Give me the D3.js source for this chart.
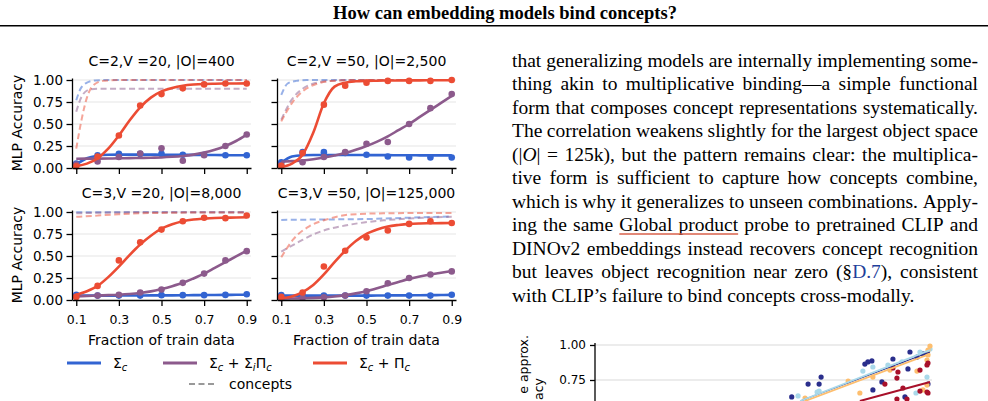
<!DOCTYPE html>
<html>
<head>
<meta charset="utf-8">
<script src="https://cdn.jsdelivr.net/npm/d3@7"></script>
<style>
  body { margin: 0; background: #fff; }
  svg { display: block; }
</style>
</head>
<body>
<script>
// ---- data ----
const fracs = [0.1, 0.2, 0.3, 0.4, 0.5, 0.6, 0.7, 0.8, 0.9];
const fitGrid = [0.1, 0.15, 0.2, 0.25, 0.3, 0.35, 0.4, 0.45, 0.5, 0.55, 0.6, 0.65, 0.7, 0.75, 0.8, 0.85, 0.9];
const panelTitles = ['C=2,V =20, |O|=400', 'C=2,V =50, |O|=2,500', 'C=3,V =20, |O|=8,000', 'C=3,V =50, |O|=125,000'];
const xTicks = [0.1, 0.3, 0.5, 0.7, 0.9];
const yTicks = [0, 0.25, 0.5, 0.75, 1.0];

// Σc
const sumPts = [
  [0.05, 0.145, 0.16, 0.16, 0.16, 0.15, 0.15, 0.145, 0.145],
  [0.065, 0.18, 0.18, 0.17, 0.15, 0.13, 0.12, 0.12, 0.12],
  [0.06, 0.05, 0.05, 0.05, 0.055, 0.055, 0.055, 0.058, 0.065],
  [0.055, 0.05, 0.05, 0.05, 0.05, 0.05, 0.05, 0.05, 0.06]
];
const sumFit = [
  [0.04, 0.11, 0.14, 0.15, 0.152, 0.152, 0.152, 0.152, 0.151, 0.15, 0.15, 0.149, 0.148, 0.147, 0.146, 0.145, 0.145],
  [0.06, 0.13, 0.145, 0.148, 0.148, 0.148, 0.148, 0.147, 0.147, 0.146, 0.146, 0.145, 0.145, 0.144, 0.144, 0.143, 0.143],
  [0.05, 0.05, 0.05, 0.05, 0.05, 0.051, 0.051, 0.052, 0.052, 0.053, 0.054, 0.055, 0.056, 0.057, 0.058, 0.059, 0.06],
  [0.05, 0.05, 0.05, 0.05, 0.05, 0.05, 0.05, 0.05, 0.05, 0.051, 0.052, 0.052, 0.053, 0.054, 0.055, 0.056, 0.058]
];
// Σc + ΣiΠc
const sumIProdPts = [
  [0.04, 0.075, 0.125, 0.165, 0.225, 0.083, 0.145, 0.25, 0.38],
  [0.03, 0.065, 0.125, 0.18, 0.275, 0.295, 0.5, 0.68, 0.84],
  [0.04, 0.05, 0.06, 0.085, 0.12, 0.195, 0.3, 0.45, 0.555],
  [0.02, 0.025, 0.03, 0.05, 0.1, 0.19, 0.25, 0.29, 0.325]
];
const sumIProdFit = [
  [0.105, 0.106, 0.107, 0.108, 0.11, 0.112, 0.114, 0.117, 0.12, 0.127, 0.137, 0.152, 0.175, 0.207, 0.25, 0.307, 0.38],
  [0.07, 0.078, 0.085, 0.1, 0.12, 0.143, 0.17, 0.207, 0.25, 0.3, 0.36, 0.43, 0.5, 0.58, 0.66, 0.74, 0.82],
  [0.04, 0.045, 0.05, 0.055, 0.06, 0.068, 0.08, 0.098, 0.125, 0.157, 0.195, 0.245, 0.3, 0.365, 0.43, 0.495, 0.56],
  [0.015, 0.017, 0.02, 0.024, 0.03, 0.04, 0.055, 0.075, 0.1, 0.133, 0.17, 0.205, 0.24, 0.268, 0.29, 0.31, 0.33]
];
// Σc + Πc
const sumProdPts = [
  [0.02, 0.13, 0.37, 0.71, 0.84, 0.905, 0.95, 0.96, 0.96],
  [0.025, 0.17, 0.72, 0.935, 0.97, 0.99, 0.99, 0.99, 1.0],
  [0.035, 0.16, 0.45, 0.655, 0.8, 0.895, 0.935, 0.93, 0.96],
  [0.035, 0.085, 0.38, 0.56, 0.71, 0.79, 0.865, 0.895, 0.875]
];
const sumProdFit = [
  [0.02, 0.05, 0.11, 0.22, 0.37, 0.54, 0.69, 0.8, 0.87, 0.91, 0.935, 0.948, 0.955, 0.958, 0.96, 0.961, 0.962],
  [0.01, 0.05, 0.15, 0.4, 0.735, 0.925, 0.97, 0.985, 0.99, 0.992, 0.994, 0.995, 0.996, 0.996, 0.997, 0.997, 0.997],
  [0.06, 0.1, 0.16, 0.26, 0.38, 0.51, 0.63, 0.73, 0.81, 0.86, 0.895, 0.915, 0.925, 0.932, 0.935, 0.938, 0.94],
  [0.02, 0.04, 0.09, 0.17, 0.29, 0.43, 0.56, 0.67, 0.75, 0.8, 0.835, 0.853, 0.865, 0.87, 0.872, 0.874, 0.875]
];
// concept accuracy (dashed), [fraction, acc]
const conceptSum = [
  [[0.1, 0.77], [0.12, 0.9], [0.15, 0.97], [0.19, 0.995], [0.25, 1.0], [0.9, 1.0]],
  [[0.1, 0.83], [0.13, 0.96], [0.17, 0.99], [0.22, 1.0], [0.9, 1.0]],
  [[0.1, 0.998], [0.9, 0.998]],
  [[0.1, 0.91], [0.3, 0.915], [0.5, 0.92], [0.7, 0.935], [0.9, 0.95]]
];
const conceptSumIProd = [
  [[0.1, 0.64], [0.125, 0.81], [0.16, 0.89], [0.2, 0.9], [0.9, 0.9]],
  [[0.1, 0.55], [0.15, 0.78], [0.2, 0.9], [0.26, 0.965], [0.33, 0.99], [0.45, 1.0], [0.9, 1.0]],
  [[0.1, 0.985], [0.3, 0.995], [0.5, 0.998], [0.9, 0.998]],
  [[0.1, 0.55], [0.186, 0.665], [0.265, 0.76], [0.42, 0.855], [0.58, 0.905], [0.735, 0.93], [0.9, 0.945]]
];
const conceptSumProd = [
  [[0.1, 0.22], [0.125, 0.55], [0.15, 0.8], [0.18, 0.94], [0.225, 0.99], [0.3, 1.0], [0.9, 1.0]],
  [[0.1, 0.53], [0.155, 0.755], [0.2, 0.87], [0.265, 0.955], [0.34, 0.99], [0.45, 1.0], [0.9, 1.0]],
  [[0.1, 0.945], [0.2, 0.96], [0.3, 0.975], [0.4, 0.985], [0.5, 0.99], [0.7, 0.994], [0.9, 0.995]],
  [[0.1, 0.485], [0.155, 0.685], [0.233, 0.84], [0.312, 0.915], [0.42, 0.97], [0.58, 0.985], [0.9, 0.99]]
];

// partial scatter plot at the bottom right, [x, acc]
const scatterNavy = [[0.58, 0.629], [0.629, 0.721], [0.662, 0.721], [0.668, 0.771], [0.799, 0.864], [0.808, 0.879],
  [0.82, 0.886], [0.823, 0.679], [0.85, 0.736], [0.883, 0.9], [0.934, 0.95], [0.928, 0.829], [0.988, 0.721],
  [0.985, 0.943], [0.973, 0.936], [0.919, 0.629], [0.955, 0.914]];
const scatterSky = [[0.599, 0.636], [0.656, 0.664], [0.662, 0.671], [0.793, 0.814], [0.823, 0.843], [0.868, 0.857],
  [0.91, 0.879], [0.964, 0.95], [0.985, 0.771], [0.994, 0.971], [0.952, 0.657]];
const scatterPeach = [[0.62, 0.621], [0.749, 0.743], [0.784, 0.657], [0.823, 0.771], [0.874, 0.821], [0.955, 0.814],
  [0.985, 0.893], [0.988, 0.964], [0.994, 0.993], [0.988, 0.929], [0.985, 0.714], [0.973, 0.679]];
const scatterCrimson = [[0.883, 0.836], [0.898, 0.807], [0.895, 0.764], [0.859, 0.721], [0.913, 0.693], [0.964, 0.671],
  [0.985, 0.664], [0.988, 0.657], [0.895, 0.614], [0.925, 0.614], [0.964, 0.821], [0.985, 0.857], [0.988, 0.871]];
const trendNavy = [[0.605, 0.6], [0.994, 0.95]];
const trendSky = [[0.605, 0.6], [0.994, 0.964]];
const trendPeach = [[0.62, 0.6], [0.994, 0.936]];
const trendCrimson = [[0.784, 0.6], [0.994, 0.736]];
const scatterYTicks = [0.75, 1.0];

const bodyLines = [
  'that generalizing models are internally implementing some-',
  'thing akin to multiplicative binding\u2014a simple functional',
  'form that composes concept representations systematically.',
  'The correlation weakens slightly for the largest object space',
  '(|*O*| = 125k), but the pattern remains clear: the multiplica-',
  'tive form is sufficient to capture how concepts combine,',
  'which is why it generalizes to unseen combinations. Apply-',
  'ing the same _Global _product probe to pretrained CLIP and',
  'DINOv2 embeddings instead recovers concept recognition',
  'but leaves object recognition near zero (\u00a7~D.7~), consistent',
  'with CLIP\u2019s failure to bind concepts cross-modally.'
];

// ---- drawing ----
const W = 988, H = 401;
const sansFont = '"DejaVu Sans", sans-serif';
const serifFont = '"Liberation Serif", "Times New Roman", serif';
const cBlue = '#3264d2', cPurple = '#8c5a8c', cRed = '#ec4c34';

const svg = d3.select('body').append('svg').attr('width', W).attr('height', H);

// header
svg.append('text')
  .attr('x', 505).attr('y', 18.5)
  .attr('text-anchor', 'middle')
  .attr('font-family', serifFont).attr('font-weight', 'bold').attr('font-size', 18.5)
  .text('How can embedding models bind concepts?');
svg.append('line')
  .attr('x1', 0).attr('x2', W).attr('y1', 25.7).attr('y2', 25.7)
  .attr('stroke', '#000').attr('stroke-width', 1.6);

// ---- 2x2 panels ----
const series = [
  { color: cBlue, pts: sumPts, fit: sumFit, concept: conceptSum },
  { color: cPurple, pts: sumIProdPts, fit: sumIProdFit, concept: conceptSumIProd },
  { color: cRed, pts: sumProdPts, fit: sumProdFit, concept: conceptSumProd }
];
const colLeft = [72, 277];
const rowBottom = [168, 300];
const panelW = 179;

panelTitles.forEach((title, p) => {
  const row = Math.floor(p / 2), col = p % 2;
  const left = colLeft[col], bottom = rowBottom[row];
  const x = d3.scaleLinear().domain([0.08, 0.92]).range([left, left + panelW]);
  const y = d3.scaleLinear().domain([0, 1.0227]).range([bottom, bottom - 90]);
  const g = svg.append('g');

  // grid
  g.selectAll('.grid').data(yTicks.slice(1)).join('line')
    .attr('x1', left).attr('x2', left + panelW)
    .attr('y1', d => y(d)).attr('y2', d => y(d))
    .attr('stroke', '#e6e6e6').attr('stroke-width', 1.2);

  // dashed concept curves
  series.forEach(s => {
    const line = d3.line().x(d => x(d[0])).y(d => y(d[1])).curve(d3.curveMonotoneX);
    g.append('path').attr('d', line(s.concept[p]))
      .attr('fill', 'none').attr('stroke', s.color).attr('stroke-opacity', 0.5)
      .attr('stroke-width', 2).attr('stroke-dasharray', '6,3.5');
  });

  // fits + points
  series.forEach(s => {
    const line = d3.line().x(d => x(d[0])).y(d => y(d[1])).curve(d3.curveMonotoneX);
    g.append('path').attr('d', line(fitGrid.map((f, i) => [f, s.fit[p][i]])))
      .attr('fill', 'none').attr('stroke', s.color).attr('stroke-width', 2.6);
    g.selectAll(null).data(fracs.map((f, i) => [f, s.pts[p][i]])).join('circle')
      .attr('cx', d => x(d[0])).attr('cy', d => y(d[1])).attr('r', 3.3)
      .attr('fill', s.color);
  });

  // axes
  const yAxis = d3.axisLeft(y).tickValues(yTicks).tickSize(5.5).tickPadding(3.5).tickSizeOuter(0)
    .tickFormat(col === 0 ? d3.format('.2f') : '');
  const xAxis = d3.axisBottom(x).tickValues(xTicks).tickSize(6).tickPadding(9).tickSizeOuter(0)
    .tickFormat(row === 1 ? d3.format('.1f') : '');
  const ya = g.append('g').attr('transform', `translate(${left},0)`).call(yAxis);
  const xa = g.append('g').attr('transform', `translate(0,${bottom})`).call(xAxis);
  [ya, xa].forEach(a => {
    a.select('.domain').attr('stroke-width', 1.3);
    a.selectAll('.tick line').attr('stroke-width', 1.3);
    a.selectAll('text').attr('font-family', sansFont).attr('fill', '#000');
  });
  ya.selectAll('text').attr('font-size', 13.5);
  xa.selectAll('text').attr('font-size', 12.5);

  g.append('text')
    .attr('x', left + panelW / 2).attr('y', bottom - 102)
    .attr('text-anchor', 'middle').attr('font-family', sansFont).attr('font-size', 14)
    .text(title);

  if (col === 0) {
    g.append('text')
      .attr('transform', `translate(22,${bottom - 45}) rotate(-90)`)
      .attr('text-anchor', 'middle').attr('font-family', sansFont).attr('font-size', 14)
      .text('MLP Accuracy');
  }
  if (row === 1) {
    g.append('text')
      .attr('x', left + panelW / 2).attr('y', 345)
      .attr('text-anchor', 'middle').attr('font-family', sansFont).attr('font-size', 14)
      .text('Fraction of train data');
  }
});

// ---- legend ----
const legendItems = [
  { color: cBlue, x: 67, parts: [['\u03a3'], ['c', 1]] },
  { color: cPurple, x: 163, parts: [['\u03a3'], ['c', 1], [' + \u03a3'], ['i', 1], ['\u03a0'], ['c', 1]] },
  { color: cRed, x: 313, parts: [['\u03a3'], ['c', 1], [' + \u03a0'], ['c', 1]] }
];
const legend = svg.append('g');
legendItems.forEach(item => {
  legend.append('line')
    .attr('x1', item.x).attr('x2', item.x + 34).attr('y1', 363).attr('y2', 363)
    .attr('stroke', item.color).attr('stroke-width', 3);
  const t = legend.append('text')
    .attr('x', item.x + 46).attr('y', 368)
    .attr('font-family', sansFont).attr('font-size', 14)
    .attr('xml:space', 'preserve');
  let shifted = false;
  item.parts.forEach(([s, sub]) => {
    const ts = t.append('tspan').text(s);
    if (sub && !shifted) { ts.attr('dy', 3).attr('font-size', 10).attr('font-style', 'italic'); shifted = true; }
    else if (sub) { ts.attr('font-size', 10).attr('font-style', 'italic'); }
    else if (shifted) { ts.attr('dy', -3); shifted = false; }
  });
});
legend.append('line')
  .attr('x1', 189).attr('x2', 217).attr('y1', 384).attr('y2', 384)
  .attr('stroke', '#999').attr('stroke-width', 2).attr('stroke-dasharray', '6,3.5');
legend.append('text')
  .attr('x', 229).attr('y', 389)
  .attr('font-family', sansFont).attr('font-size', 14)
  .text('concepts');

// ---- body text (justified) ----
const textLeft = 512, textRight = 978;
const body = svg.append('g')
  .attr('font-family', serifFont).attr('font-size', 19.5).attr('fill', '#000');

function segments(word) {
  const out = [];
  let cur = '', it = false, link = false;
  for (const ch of word) {
    if (ch === '*' || ch === '~') {
      if (cur) out.push({ text: cur, it, link });
      cur = '';
      if (ch === '*') it = !it; else link = !link;
    } else cur += ch;
  }
  if (cur) out.push({ text: cur, it, link });
  return out;
}

bodyLines.forEach((line, i) => {
  const yb = 66.5 + i * 23.5;
  const words = line.split(' ').map(w => {
    const ul = w.startsWith('_');
    const t = body.append('text').attr('y', yb);
    segments(ul ? w.slice(1) : w).forEach(s => {
      t.append('tspan').text(s.text)
        .attr('font-style', s.it ? 'italic' : null)
        .attr('fill', s.link ? '#1f3f9a' : null);
    });
    return { t, ul, w: t.node().getComputedTextLength() };
  });
  const total = d3.sum(words, d => d.w);
  const last = i === bodyLines.length - 1;
  const gap = last ? 4.9 : (textRight - textLeft - total) / (words.length - 1);
  let xp = textLeft;
  words.forEach(d => { d.t.attr('x', xp); d.x = xp; xp += d.w + gap; });
  const ul = words.filter(d => d.ul);
  if (ul.length) {
    const end = ul[ul.length - 1];
    body.append('line')
      .attr('x1', ul[0].x).attr('x2', end.x + end.w)
      .attr('y1', yb + 3).attr('y2', yb + 3)
      .attr('stroke', '#d9604a').attr('stroke-width', 1.6);
  }
});

// ---- partial scatter at bottom right ----
const sx = d3.scaleLinear().domain([0, 1]).range([598, 932]);
const sy = d3.scaleLinear().domain([0.75, 1.0]).range([380, 345]);
const sg = svg.append('g');
sg.selectAll('.sgrid').data(scatterYTicks).join('line')
  .attr('x1', 595).attr('x2', 932)
  .attr('y1', d => sy(d)).attr('y2', d => sy(d))
  .attr('stroke', '#e6e6e6').attr('stroke-width', 1.4);

const scatterSets = [
  { pts: scatterNavy, trend: trendNavy, color: '#2a2e8c', w: 1.2 },
  { pts: scatterSky, trend: trendSky, color: '#a9d9ea', w: 1.8 },
  { pts: scatterPeach, trend: trendPeach, color: '#fdbe6e', w: 1.8 },
  { pts: scatterCrimson, trend: trendCrimson, color: '#a8102a', w: 2 }
];
scatterSets.forEach(s => {
  sg.selectAll(null).data(s.pts).join('circle')
    .attr('cx', d => sx(d[0])).attr('cy', d => sy(d[1])).attr('r', 2.6)
    .attr('fill', s.color);
});
scatterSets.forEach(s => {
  sg.append('path')
    .attr('d', d3.line().x(d => sx(d[0])).y(d => sy(d[1]))(s.trend))
    .attr('fill', 'none').attr('stroke', s.color).attr('stroke-width', s.w);
});

const sAxis = d3.axisLeft(sy).tickValues(scatterYTicks).tickFormat(d3.format('.2f'))
  .tickSize(5).tickPadding(4).tickSizeOuter(0);
const sa = sg.append('g').attr('transform', 'translate(595,0)').call(sAxis);
sa.select('.domain').attr('d', 'M0,343V401').attr('stroke-width', 1.3);
sa.selectAll('.tick line').attr('stroke-width', 1.3);
sa.selectAll('text').attr('font-family', sansFont).attr('font-size', 12).attr('fill', '#000');

sg.append('text')
  .attr('transform', 'translate(528,335) rotate(-90)')
  .attr('text-anchor', 'end').attr('font-family', sansFont).attr('font-size', 12.5)
  .text('e approx.');
sg.append('text')
  .attr('transform', 'translate(543,378) rotate(-90)')
  .attr('text-anchor', 'end').attr('font-family', sansFont).attr('font-size', 12.5)
  .text('acy');
</script>
</body>
</html>
